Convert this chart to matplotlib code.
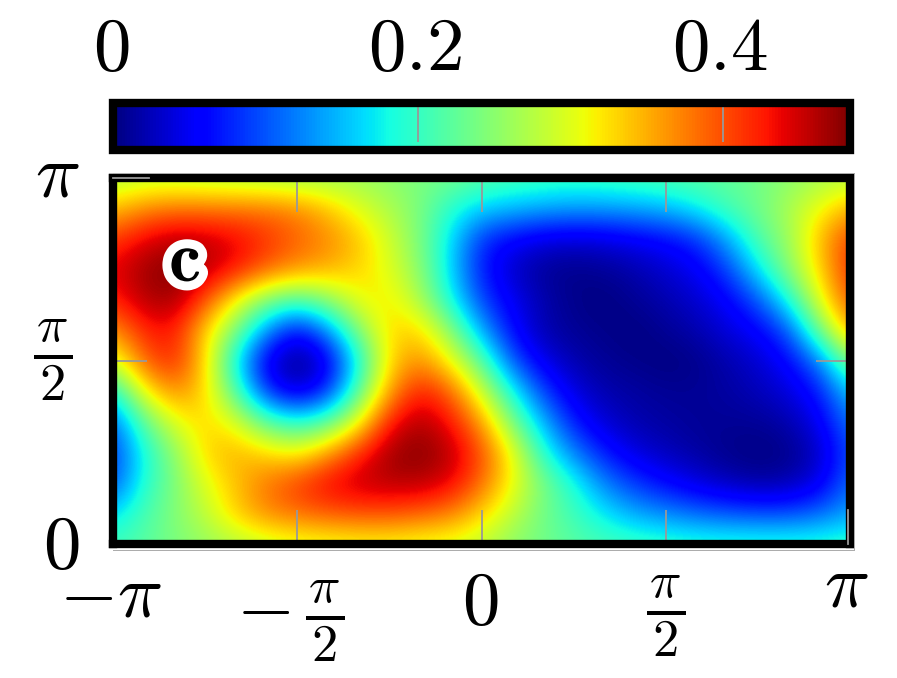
import numpy as np
import matplotlib
matplotlib.use("Agg")
import matplotlib.pyplot as plt
import matplotlib.patheffects as pe
from matplotlib.lines import Line2D
from matplotlib.transforms import ScaledTranslation

plt.rcParams["mathtext.fontset"] = "cm"

# values, one list per row, every pi/12 from y=0 up to y=pi
# each row runs from x=-pi to x=pi in steps of pi/12
row_00 = [.205, .22, .24, .255, .27, .285, .295, .30, .305, .305, .30, .295, .28, .25, .235, .22, .21, .205, .2, .195, .195, .195, .195, .195, .2]
row_01 = [.165, .21, .245, .28, .335, .37, .385, .395, .40, .40, .39, .375, .33, .28, .235, .205, .17, .14, .125, .11, .10, .095, .095, .11, .14]
row_02 = [.095, .19, .24, .30, .34, .38, .41, .44, .455, .46, .46, .44, .385, .31, .24, .185, .12, .085, .06, .04, .025, .015, .02, .045, .115]
row_03 = [.085, .18, .25, .33, .35, .33, .31, .36, .42, .47, .48, .46, .40, .31, .19, .12, .07, .04, .025, .015, .005, 0, .005, .03, .10]
row_04 = [.105, .22, .30, .33, .30, .22, .19, .22, .31, .43, .465, .43, .36, .24, .145, .07, .035, .02, .015, .01, .01, .01, .02, .05, .12]
row_05 = [.175, .31, .37, .33, .215, .08, .03, .08, .22, .36, .43, .39, .29, .18, .09, .04, .02, .015, .01, .01, .015, .025, .04, .07, .16]
row_06 = [.29, .39, .425, .33, .17, .04, 0, .04, .18, .33, .37, .31, .22, .10, .045, .02, .01, .005, 0, .005, .02, .035, .06, .12, .25]
row_07 = [.36, .42, .43, .33, .24, .125, .055, .125, .245, .33, .33, .25, .14, .06, .02, .01, .005, 0, .01, .02, .04, .055, .10, .235, .36]
row_08 = [.42, .46, .47, .40, .31, .24, .21, .25, .31, .32, .27, .18, .09, .05, .02, .005, 0, .01, .02, .035, .055, .10, .185, .305, .40]
row_09 = [.44, .47, .48, .46, .43, .39, .365, .35, .33, .30, .25, .16, .07, .03, .01, .005, .01, .02, .035, .05, .09, .17, .25, .33, .42]
row_10 = [.41, .44, .46, .455, .44, .415, .39, .37, .34, .29, .24, .165, .08, .055, .04, .035, .04, .05, .06, .08, .14, .215, .26, .345, .41]
row_11 = [.34, .37, .38, .38, .38, .38, .37, .34, .30, .27, .24, .19, .16, .15, .14, .135, .135, .14, .15, .175, .21, .235, .27, .31, .35]
row_12 = [.27, .28, .28, .275, .27, .265, .26, .26, .26, .25, .24, .235, .22, .21, .205, .2, .205, .21, .215, .22, .225, .235, .25, .265, .275]

half_pi = r"\frac{\hspace{0.08}\pi\hspace{0.08}}{2}"
x_ticks = [-np.pi, -np.pi / 2, 0, np.pi / 2, np.pi]
x_labels = [r"$-\pi$", r"$-\," + half_pi + "$", r"$0$", "$" + half_pi + "$", r"$\pi$"]
y_ticks = [0, np.pi / 2, np.pi]
y_labels = [r"$0$", "$" + half_pi + "$", r"$\pi$"]
bar_ticks = [0, 0.2, 0.4]
bar_labels = [r"$0$", r"$0.2$", r"$0.4$"]
vmax = 0.483

W, H = 897, 678
GRAY = "#999999"


def px_box(x0, y0, x1, y1):
    # pixel box (y from the top) to figure fractions
    return [x0 / W, 1 - y1 / H, (x1 - x0) / W, (y1 - y0) / H]


def nudge(labels, shifts):
    # move tick labels by a few pixels, mathtext fractions do not centre well
    for label, (dx, dy) in zip(labels, shifts):
        offset = ScaledTranslation(dx / 100, -dy / 100, fig.dpi_scale_trans)
        label.set_transform(label.get_transform() + offset)


z = np.array([row_00, row_01, row_02, row_03, row_04, row_05, row_06,
              row_07, row_08, row_09, row_10, row_11, row_12])

fig = plt.figure(figsize=(W / 100, H / 100), dpi=100)
ax = fig.add_axes(px_box(113, 178, 850, 544))
cax = fig.add_axes(px_box(113, 103, 850, 150))

# cell centres sit on the grid nodes, so the image runs half a cell past the axes
half_x = np.pi / 24
half_y = np.pi / 24
im = ax.imshow(z, origin="lower", aspect="auto", cmap="jet", vmin=0, vmax=vmax,
               extent=(-np.pi - half_x, np.pi + half_x, -half_y, np.pi + half_y),
               interpolation="bicubic", interpolation_stage="data")
ax.set_xlim(-np.pi, np.pi)
ax.set_ylim(0, np.pi)

ax.set_xticks(x_ticks, x_labels)
ax.set_yticks(y_ticks, y_labels)
ax.tick_params(axis="both", direction="in", length=24.5, width=1.3, color=GRAY,
               top=True, right=True, labelsize=54, pad=24)
for spine in ax.spines.values():
    spine.set_linewidth(6)

nudge(ax.get_xticklabels(), [(-3, -18), (-7, 0), (-1, -10), (0, -5), (-4, -28)])
nudge(ax.get_yticklabels(), [(0, -5), (-7, -18), (0, -10)])

# the two corner ticks that show on top of the frame
ax.plot([-np.pi, -2.835], [np.pi, np.pi], color=GRAY, lw=1.3, zorder=3, clip_on=False)
ax.plot([np.pi - 0.02, np.pi - 0.02], [0, 0.29], color=GRAY, lw=1.3, zorder=3, clip_on=False)

cb = fig.colorbar(im, cax=cax, orientation="horizontal", ticks=bar_ticks)
cb.outline.set_linewidth(6)
cax.xaxis.set_ticks_position("top")
cax.set_xticks(bar_ticks, bar_labels)
cax.tick_params(axis="x", direction="in", length=28, width=1.3, color=GRAY,
                labelsize=54, pad=12)
nudge(cax.get_xticklabels(), [(-2, 0), (-3, 0), (-4, 0)])

ax.text(185, H - 262, r"$\mathbf{c}$", transform=None, fontsize=52, color="black",
        ha="center", va="center", zorder=5,
        path_effects=[pe.withStroke(linewidth=13, foreground="white")])

# thin gray edge just outside the frame
for xs, ys in [((113, 854), (172.5, 172.5)), ((854, 854), (172.5, 549)), ((113, 854), (549.5, 549.5))]:
    fig.add_artist(Line2D([x / W for x in xs], [1 - y / H for y in ys],
                          color="#aaaaaa", lw=0.7))

fig.savefig("out.png", dpi=100)
